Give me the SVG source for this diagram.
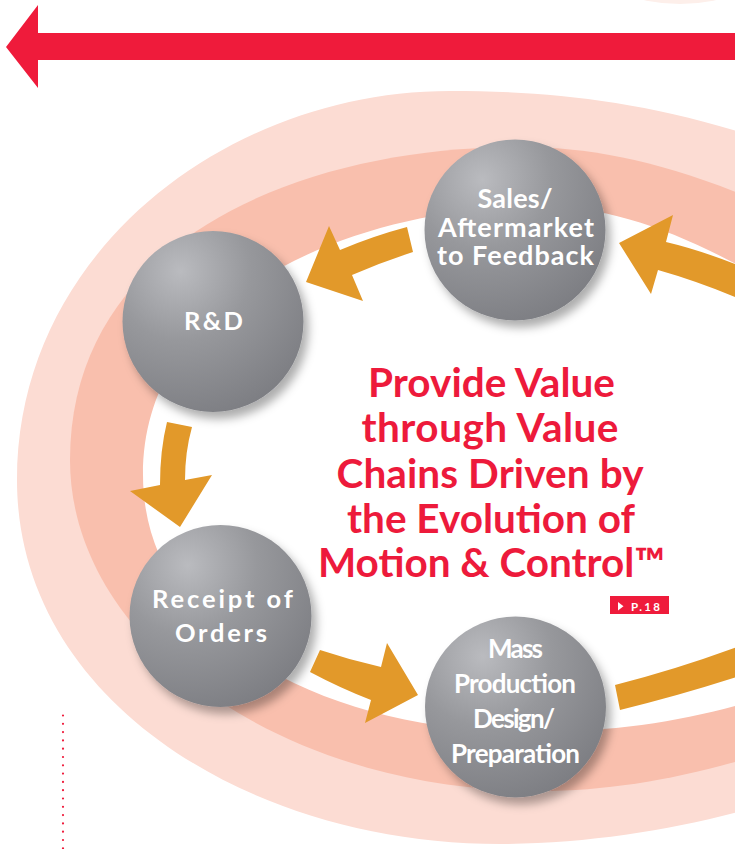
<svg xmlns="http://www.w3.org/2000/svg" width="735" height="849" viewBox="0 0 735 849">
  <defs>
    <radialGradient id="sphere" cx="0.32" cy="0.22" r="0.85" fx="0.32" fy="0.22">
      <stop offset="0" stop-color="#babbbf"/>
      <stop offset="0.45" stop-color="#97989c"/>
      <stop offset="1" stop-color="#7c7d82"/>
    </radialGradient>
    <filter id="shadow" x="-20%" y="-20%" width="150%" height="150%">
      <feDropShadow dx="5" dy="7" stdDeviation="5" flood-color="#000" flood-opacity="0.32"/>
    </filter>
    <style>
      .lbl { font-family: Lato, "Open Sans", "Liberation Sans", sans-serif; font-weight: 700; fill: #ffffff; text-anchor: middle; }
      .ttl { font-family: Lato, "Open Sans", "Liberation Sans", sans-serif; font-weight: 700; fill: #ed1a3b; text-anchor: middle; font-size: 40.5px; }
      .arw { fill: #e2992a; }
      .ball { fill: url(#sphere); filter: url(#shadow); }
    </style>
  </defs>

  <g id="background">
    <ellipse cx="680" cy="-167" rx="171" ry="171" fill="#fdefea"/>
    <path d="M 800,150 L 780,145 C 650,100 550,91 450,91 C 230,91 17,250 17,480 C 17,700 250,844 500,844 C 600,844 700,825 780,800 L 800,800 Z" fill="#fcdcd3"/>
    <path d="M 800,222 L 790,215 C 680,165 600,147 520,147 C 300,147 70,240 70,460 C 70,640 280,791 540,791 C 620,791 700,775 790,745 L 800,740 Z" fill="#f9bfad"/>
    <path d="M 800,300 L 790,295 C 700,240 620,206 540,206 C 380,206 143,280 143,475 C 143,640 330,732 530,732 C 640,732 710,715 790,690 L 800,688 Z" fill="#ffffff"/>
    <polygon id="timeline-arrow" points="6,47 38,5 38,33 735,33 735,60 38,60 38,88" fill="#ef1b3b"/>
    <line x1="63" y1="715.5" x2="63" y2="849" stroke="#ef1b3b" stroke-width="2.2" stroke-linecap="round" stroke-dasharray="0 8.3"/>
  </g>

  <g id="node-sales">
    <circle class="ball" cx="515" cy="230" r="90.5"/>
    <text class="lbl" font-size="27" x="515" y="208" textLength="75">Sales/</text>
    <text class="lbl" font-size="27" x="516" y="236.5" textLength="156">Aftermarket</text>
    <text class="lbl" font-size="27" x="515.5" y="265" textLength="157">to Feedback</text>
  </g>

  <g id="node-rd">
    <circle class="ball" cx="213" cy="321.5" r="90.5"/>
    <text class="lbl" font-size="25.5" x="213.5" y="330" textLength="59">R&amp;D</text>
  </g>

  <g id="node-receipt">
    <circle class="ball" cx="220.5" cy="616" r="91"/>
    <text class="lbl" font-size="25.5" x="222.5" y="608" textLength="141">Receipt of</text>
    <text class="lbl" font-size="25.5" x="221" y="642" textLength="92">Orders</text>
  </g>

  <g id="node-mass">
    <circle class="ball" cx="515.5" cy="707" r="90.5"/>
    <text class="lbl" font-size="26" x="515.5" y="658" textLength="55">Mass</text>
    <text class="lbl" font-size="26" x="515" y="693" textLength="122">Production</text>
    <text class="lbl" font-size="26" x="514" y="728" textLength="82">Design/</text>
    <text class="lbl" font-size="26" x="515.5" y="763" textLength="129">Preparation</text>
  </g>

  <g id="connectors">
    <path class="arw" d="M 407,227 Q 373,236 340,250 L 329,226 L 306,282 L 363,301 L 352,275 Q 382,262 413,252 Z"/>
    <path class="arw" d="M 167,422 Q 160,450 160,485 L 130,491 L 180,527 L 212,475 L 185,480 Q 185,452 192,427 Z"/>
    <path class="arw" d="M 320,650 Q 350,660 381,667 L 387,643 L 418,695 L 365,723 L 371,700 Q 340,688 310,672 Z"/>
    <path class="arw" d="M 615,685 Q 675,670 740,646 L 740,676 Q 678,696 620,710 Z"/>
    <path class="arw" d="M 740,266 Q 700,250 666,242 L 673,215 L 619,243 L 651,294 L 658,270 Q 697,281 740,299 Z"/>
  </g>

  <g id="title">
    <text class="ttl" x="491.5" y="397" textLength="247">Provide Value</text>
    <text class="ttl" x="490" y="442" textLength="257">through Value</text>
    <text class="ttl" x="490" y="488" textLength="307">Chains Driven by</text>
    <text class="ttl" x="491" y="533" textLength="288">the Evolution of</text>
    <text class="ttl" x="491.5" y="577" textLength="347">Motion &amp; Control™</text>
  </g>

  <g id="page-ref">
    <rect x="610" y="596" width="59" height="18" fill="#ef1b3b"/>
    <polygon points="618,602 618,610.5 623.5,606.2" fill="#ffffff"/>
    <text x="631" y="610.5" font-family="Lato, 'Open Sans', 'Liberation Sans', sans-serif" font-weight="700" font-size="11.5" fill="#ffffff" textLength="29">P.18</text>
  </g>
</svg>
